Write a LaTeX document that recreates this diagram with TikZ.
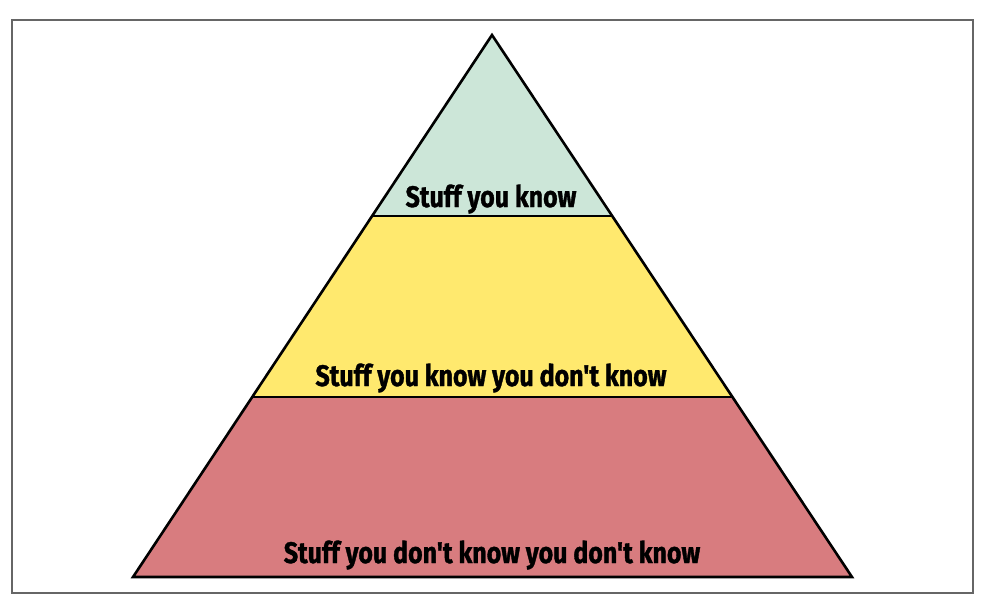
\documentclass[tikz,border=0pt]{standalone}
\usepackage{fontspec}
\setmainfont{Fira Sans}[Ligatures=TeXOff, FakeStretch=0.84, BoldFeatures={FakeBold=1.2}]
\usepackage{tikz}

\definecolor{topgreen}{RGB}{204,230,216}
\definecolor{midyellow}{RGB}{255,233,110}
\definecolor{lowred}{RGB}{216,124,127}

\begin{document}
\begin{tikzpicture}[x=1pt, y=-1pt, line join=miter]
    \useasboundingbox (0,0) rectangle (984,603);

    % outer frame
    \draw[gray!80!black, line width=1.2pt] (12,20) rectangle (973,593);

    % pyramid layers
    \coordinate (apex) at (492,35);
    \coordinate (baseL) at (133,577);
    \coordinate (baseR) at (852,577);
    \coordinate (upL) at (372,216);
    \coordinate (upR) at (612,216);
    \coordinate (midL) at (252,397);
    \coordinate (midR) at (732,397);

    \fill[lowred] (midL) -- (midR) -- (baseR) -- (baseL) -- cycle;
    \fill[midyellow] (upL) -- (upR) -- (midR) -- (midL) -- cycle;
    \fill[topgreen] (apex) -- (upR) -- (upL) -- cycle;
    \draw[line width=2.6pt] (apex) -- (baseR) -- (baseL) -- cycle;
    \draw[line width=2.6pt] (upL) -- (upR);
    \draw[line width=2.6pt] (midL) -- (midR);

    % labels
    \node (know) [anchor=base, font=\bfseries\fontsize{29.7}{32}\selectfont, inner sep=0pt] at (491,207) {Stuff you know};
    \node (knowdont) [anchor=base, font=\bfseries\fontsize{29.7}{32}\selectfont, inner sep=0pt] at (491,386) {Stuff you know you don't know};
    \node (dontdont) [anchor=base, font=\bfseries\fontsize{29.7}{32}\selectfont, inner sep=0pt] at (492,563) {Stuff you don't know you don't know};

\end{tikzpicture}
\end{document}
